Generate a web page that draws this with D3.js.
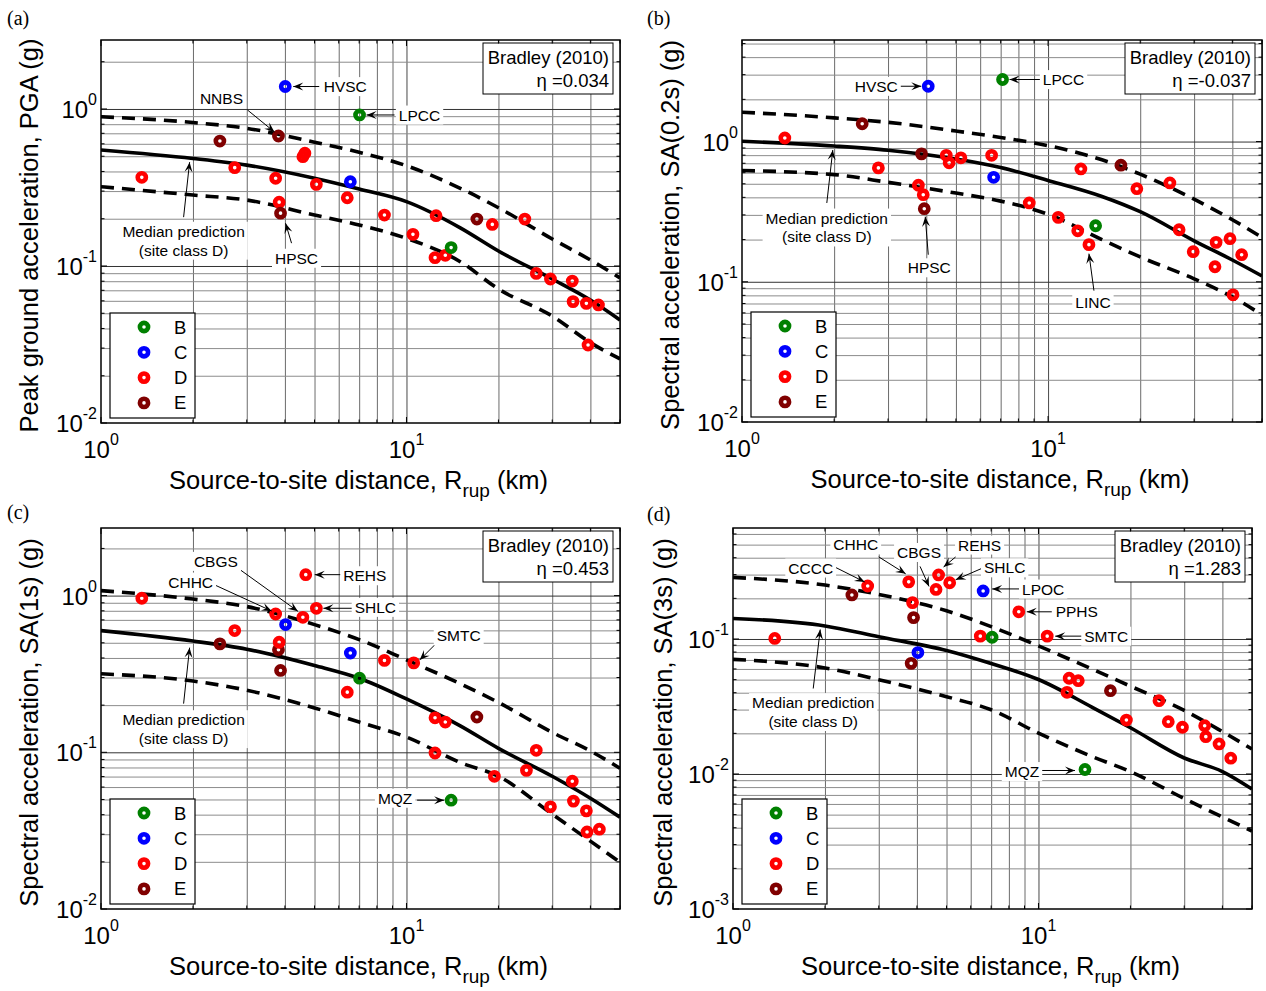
<!DOCTYPE html>
<html><head><meta charset="utf-8">
<script src="https://cdn.jsdelivr.net/npm/d3@7"></script>
<style>
body{margin:0;background:#fff;}
svg{display:block;}
</style></head><body>
<svg id="chart" width="1266" height="991"></svg>
<script>
// ================= DATA =================
const siteClasses = ["B", "C", "D", "E"];
const curveDist = [1, 2, 3, 5, 7, 10, 15, 20, 30, 40, 50];
const xTickValues = [1, 10];
const xTickExponents = ["0", "1"];

// (a) PGA
const pgaDist  = [1.36, 2.45, 2.74, 3.73, 3.81, 3.83, 3.87, 4.01, 4.58, 4.65, 5.07, 6.40, 6.55, 7.02, 8.47, 10.5, 12.4, 12.5, 13.4, 14.0, 17.0, 19.1, 24.4, 26.6, 29.6, 34.9, 35.1, 38.8, 39.3, 42.5];
const pgaValue = [0.367, 0.625, 0.423, 0.362, 0.673, 0.255, 0.217, 1.39, 0.497, 0.523, 0.331, 0.272, 0.344, 0.916, 0.211, 0.159, 0.113, 0.209, 0.117, 0.131, 0.199, 0.184, 0.199, 0.0897, 0.0826, 0.0802, 0.0593, 0.0578, 0.0314, 0.0565];
const pgaClass = ["D","E","D","D","E","D","E","C","D","D","D","D","C","B","D","D","D","D","D","B","E","D","D","D","D","D","D","D","D","D"];
const pgaStation = ["","","","","NNBS","","HPSC","HVSC","","","","","","LPCC","","","","","","","","","","","","","","","",""];
const pgaMedian = [0.548, 0.484, 0.439, 0.362, 0.309, 0.257, 0.175, 0.1246, 0.0826, 0.0607, 0.0453];
const pgaUpper  = [0.893, 0.820, 0.753, 0.614, 0.530, 0.435, 0.3126, 0.235, 0.1486, 0.1092, 0.0839];
const pgaLower  = [0.320, 0.283, 0.263, 0.211, 0.1824, 0.150, 0.1065, 0.0714, 0.048, 0.0325, 0.0256];
const pgaYTickValues = [0.01, 0.1, 1];
const pgaYTickExponents = ["-2", "-1", "0"];
const pgaEta = "0.034";

// (b) SA(0.2s)
const sa02Dist  = [1.38, 2.47, 2.79, 3.77, 3.86, 3.91, 3.94, 4.06, 4.65, 4.75, 5.19, 6.54, 6.64, 7.10, 8.68, 10.8, 12.5, 12.8, 13.6, 14.3, 17.3, 19.5, 25.0, 26.8, 29.8, 35.1, 35.4, 39.3, 40.2, 42.9];
const sa02Value = [1.06, 1.34, 0.649, 0.488, 0.817, 0.418, 0.332, 2.48, 0.798, 0.705, 0.766, 0.798, 0.556, 2.77, 0.365, 0.288, 0.231, 0.638, 0.184, 0.251, 0.678, 0.461, 0.507, 0.235, 0.164, 0.128, 0.191, 0.203, 0.0807, 0.156];
const sa02Class = ["D","E","D","D","E","D","E","C","D","D","D","D","C","B","D","D","D","D","D","B","E","D","D","D","D","D","D","D","D","D"];
const sa02Station = ["","","","","","","HPSC","HVSC","","","","","","LPCC","","","","","LINC","","","","","","","","","","",""];
const sa02Median = [1.005, 0.929, 0.867, 0.75, 0.652, 0.528, 0.406, 0.316, 0.196, 0.143, 0.110];
const sa02Upper  = [1.62, 1.476, 1.371, 1.189, 1.069, 0.935, 0.741, 0.585, 0.388, 0.277, 0.207];
const sa02Lower  = [0.621, 0.581, 0.512, 0.429, 0.376, 0.303, 0.200, 0.1503, 0.105, 0.078, 0.0581];
const sa02YTickValues = [0.01, 0.1, 1];
const sa02YTickExponents = ["-2", "-1", "0"];
const sa02Eta = "-0.037";

// (c) SA(1s)
const sa1Dist  = [1.36, 2.45, 2.74, 3.73, 3.81, 3.83, 3.87, 4.02, 4.58, 4.68, 5.07, 6.40, 6.55, 7.02, 8.47, 10.56, 12.4, 12.4, 13.4, 14.0, 17.0, 19.4, 24.7, 26.6, 29.6, 34.9, 35.2, 38.8, 39.0, 42.8];
const sa1Value = [0.962, 0.492, 0.598, 0.763, 0.451, 0.504, 0.333, 0.653, 0.727, 1.36, 0.830, 0.242, 0.430, 0.297, 0.386, 0.372, 0.099, 0.166, 0.156, 0.0495, 0.168, 0.0703, 0.0767, 0.103, 0.0449, 0.0654, 0.0488, 0.0423, 0.031, 0.0323];
const sa1Class = ["D","E","D","D","E","D","E","C","D","D","D","D","C","B","D","D","D","D","D","B","E","D","D","D","D","D","D","D","D","D"];
const sa1Station = ["","","","CHHC","","","","","CBGS","REHS","SHLC","","","","","SMTC","","","","MQZ","","","","","","","","","",""];
const sa1Median = [0.598, 0.513, 0.455, 0.358, 0.297, 0.219, 0.1475, 0.106, 0.0703, 0.0509, 0.0385];
const sa1Upper  = [1.076, 0.950, 0.851, 0.653, 0.524, 0.389, 0.274, 0.208, 0.134, 0.102, 0.0791];
const sa1Lower  = [0.317, 0.285, 0.249, 0.192, 0.156, 0.125, 0.086, 0.0703, 0.0403, 0.0271, 0.0199];
const sa1YTickValues = [0.01, 0.1, 1];
const sa1YTickExponents = ["-2", "-1", "0"];
const sa1Eta = "0.453";

// (d) SA(3s)
const sa3Dist  = [1.37, 2.45, 2.76, 3.76, 3.83, 3.87, 3.90, 4.03, 4.62, 4.71, 5.12, 6.45, 6.59, 7.05, 8.62, 10.68, 12.4, 12.6, 13.5, 14.2, 17.2, 19.4, 24.8, 26.6, 29.6, 35.0, 35.3, 39.0, 42.6];
const sa3Value = [0.101, 0.212, 0.247, 0.265, 0.066, 0.186, 0.144, 0.0793, 0.233, 0.298, 0.261, 0.105, 0.227, 0.103, 0.159, 0.105, 0.0403, 0.0512, 0.0491, 0.0108, 0.0414, 0.0251, 0.0349, 0.0244, 0.0222, 0.0228, 0.0189, 0.0167, 0.0131];
const sa3Class = ["D","E","D","D","E","D","E","C","D","D","D","D","C","B","D","D","D","D","D","B","E","D","D","D","D","D","D","D","D"];
const sa3Station = ["","","CCCC","CHHC","","","","","CBGS","REHS","SHLC","","LPOC","","PPHS","SMTC","","","","MQZ","","","","","","","","",""];
const sa3Median = [0.142, 0.125, 0.104, 0.0822, 0.0658, 0.0501, 0.0312, 0.0220, 0.01314, 0.01043, 0.00774];
const sa3Upper  = [0.286, 0.251, 0.214, 0.1618, 0.1236, 0.0888, 0.0598, 0.0447, 0.0296, 0.0206, 0.0153];
const sa3Lower  = [0.0707, 0.0610, 0.0499, 0.0374, 0.0299, 0.0201, 0.01345, 0.01042, 0.00658, 0.0048, 0.00378];
const sa3YTickValues = [0.001, 0.01, 0.1];
const sa3YTickExponents = ["-3", "-2", "-1"];
const sa3Eta = "1.283";

// ================= STYLE / LAYOUT =================
const classColors = {B: "#008000", C: "#0000ff", D: "#ff0000", E: "#800000"};
const SANS = "Arial, 'Liberation Sans', Helvetica, sans-serif";
const SERIF = "'Times New Roman', 'Liberation Serif', serif";

const panels = [
  {key: "(a)", labelPos: [7, 25], left: 101, right: 620, top: 40, bottom: 423, yDomain: [0.01, 2.75],
   dist: pgaDist, value: pgaValue, cls: pgaClass, station: pgaStation,
   median: pgaMedian, upper: pgaUpper, lower: pgaLower,
   yTicks: pgaYTickValues, yExps: pgaYTickExponents, eta: pgaEta,
   yTitle: "Peak ground acceleration, PGA (g)", yTitleX: 38,
   medianAnn: {R: 1.95, l: [-6, 73], s: [-6, 59], e: [0, 4]},
   ann: {HVSC: {l: [60, 0], s: [34, 0], e: [8, 0]},
         NNBS: {l: [-57, -38], s: [-31, -26], e: [-4, -4]},
         LPCC: {l: [60, 0], s: [35, 0], e: [7, 0]},
         HPSC: {l: [16, 45], s: [11, 30], e: [5, 10]}}},
  {key: "(b)", labelPos: [647, 25], left: 742, right: 1262, top: 40, bottom: 422, yDomain: [0.01, 5.3],
   dist: sa02Dist, value: sa02Value, cls: sa02Class, station: sa02Station,
   median: sa02Median, upper: sa02Upper, lower: sa02Lower,
   yTicks: sa02YTickValues, yExps: sa02YTickExponents, eta: sa02Eta,
   yTitle: "Spectral acceleration, SA(0.2s) (g)", yTitleX: 679,
   medianAnn: {R: 1.98, l: [-6, 72], s: [-6, 57], e: [0, 4]},
   ann: {HVSC: {l: [-52, 0], s: [-29, 0], e: [-7, 0]},
         LPCC: {l: [61, 0], s: [38, 0], e: [7, 0]},
         HPSC: {l: [5, 59], s: [4, 46], e: [1, 8]},
         LINC: {l: [4, 58], s: [5, 46], e: [0, 9]}}},
  {key: "(c)", labelPos: [7, 519], left: 101, right: 620, top: 528, bottom: 909, yDomain: [0.01, 2.7],
   dist: sa1Dist, value: sa1Value, cls: sa1Class, station: sa1Station,
   median: sa1Median, upper: sa1Upper, lower: sa1Lower,
   yTicks: sa1YTickValues, yExps: sa1YTickExponents, eta: sa1Eta,
   yTitle: "Spectral acceleration, SA(1s) (g)", yTitleX: 38,
   medianAnn: {R: 1.95, l: [-6, 79], s: [-6, 63], e: [0, 7]},
   ann: {REHS: {l: [59, 1], s: [37, 0], e: [9, 0]},
         CBGS: {l: [-87, -56], s: [-62, -47], e: [-5, -6]},
         CHHC: {l: [-85, -32], s: [-63, -30], e: [-4, -3]},
         SHLC: {l: [59, -1], s: [36, 0], e: [7, 0]},
         SMTC: {l: [45, -27], s: [22, -19], e: [6, -3]},
         MQZ:  {l: [-56, -2], s: [-34, 0], e: [-7, 0]}}},
  {key: "(d)", labelPos: [647, 521], left: 733, right: 1252, top: 528, bottom: 909, yDomain: [0.001, 0.664],
   dist: sa3Dist, value: sa3Value, cls: sa3Class, station: sa3Station,
   median: sa3Median, upper: sa3Upper, lower: sa3Lower,
   yTicks: sa3YTickValues, yExps: sa3YTickExponents, eta: sa3Eta,
   yTitle: "Spectral acceleration, SA(3s) (g)", yTitleX: 672,
   medianAnn: {R: 1.93, l: [-7, 77], s: [-7, 63], e: [0, 4]},
   ann: {CCCC: {l: [-57, -18], s: [-33, -19], e: [-3, -4]},
         CHHC: {l: [-53, -37], s: [-30, -25], e: [-3, -8]},
         CBGS: {l: [-17, -37], s: [-16, -23], e: [-7, -3]},
         REHS: {l: [41, -30], s: [17, -18], e: [5, -8]},
         SHLC: {l: [55, -15], s: [36, -16], e: [6, -3]},
         LPOC: {l: [60, -2], s: [36, -2], e: [9, -2]},
         PPHS: {l: [58, 0], s: [33, 0], e: [8, 0]},
         SMTC: {l: [59, 0], s: [35, 0], e: [8, 0]},
         MQZ:  {l: [-63, 2], s: [-44, 1], e: [-10, 1]}}}
];

const svg = d3.select("#chart");
svg.append("rect").attr("width", 1266).attr("height", 991).attr("fill", "#fff");

function interpLog(R, xs, ys) {
  const lr = Math.log10(R);
  for (let i = 0; i < xs.length - 1; i++) {
    if (R >= xs[i] && R <= xs[i + 1]) {
      const t = (lr - Math.log10(xs[i])) / (Math.log10(xs[i + 1]) - Math.log10(xs[i]));
      return Math.pow(10, Math.log10(ys[i]) + t * (Math.log10(ys[i + 1]) - Math.log10(ys[i])));
    }
  }
  return ys[0];
}

function arrow(g, sx, sy, ex, ey) {
  g.append("line").attr("x1", sx).attr("y1", sy).attr("x2", ex).attr("y2", ey)
    .attr("stroke", "#000").attr("stroke-width", 1);
  const dx = ex - sx, dy = ey - sy, L = Math.hypot(dx, dy) || 1;
  const ux = dx / L, uy = dy / L, nx = -uy, ny = ux;
  const hl = 10, hw = 4;
  const bx = ex - ux * hl, by = ey - uy * hl;
  const mx = ex - ux * hl * 0.6, my = ey - uy * hl * 0.6;
  g.append("path")
    .attr("d", `M${ex},${ey}L${bx + nx * hw},${by + ny * hw}L${mx},${my}L${bx - nx * hw},${by - ny * hw}Z`)
    .attr("fill", "#000");
}

function labelBox(g, cx, cy, lines, size) {
  const t = g.append("text").attr("font-family", SANS).attr("font-size", size)
    .attr("text-anchor", "middle");
  lines.forEach((ln, i) => {
    t.append("tspan").attr("x", cx).attr("y", cy + size * 0.36 + i * (size * 1.22)).text(ln);
  });
  const bb = t.node().getBBox();
  g.insert("rect", () => t.node())
    .attr("x", bb.x - 3).attr("y", bb.y - 1).attr("width", bb.width + 6).attr("height", bb.height + 2)
    .attr("fill", "#fff");
}

panels.forEach(p => {
  const x = d3.scaleLog().domain([1, 50]).range([p.left, p.right]);
  const y = d3.scaleLog().domain(p.yDomain).range([p.bottom, p.top]);
  const W = p.right - p.left, H = p.bottom - p.top;
  const g = svg.append("g");
  const clipId = "clip" + p.key.replace(/[()]/g, "");
  svg.append("clipPath").attr("id", clipId).append("rect")
    .attr("x", p.left).attr("y", p.top).attr("width", W).attr("height", H);

  // grid values
  const gx = [];
  for (let d = 2; d < 10; d++) gx.push(d);
  for (let d = 10; d <= 50; d += 10) gx.push(d);
  const gy = [];
  const e0 = Math.round(Math.log10(p.yDomain[0]));
  for (let e = e0; e <= e0 + 3; e++) {
    for (let m = 1; m < 10; m++) {
      const v = +(m * Math.pow(10, e)).toPrecision(6);
      if (v > p.yDomain[0] * 1.001 && v < p.yDomain[1]) gy.push(v);
    }
  }
  const isMajor = v => Math.abs(Math.log10(v) - Math.round(Math.log10(v))) < 1e-6;

  // vertical grid
  g.append("g").attr("transform", `translate(0,${p.bottom})`)
    .call(d3.axisBottom(x).tickValues(gx).tickSize(-H).tickFormat(""))
    .call(s => s.select(".domain").remove())
    .selectAll("line").attr("stroke", d => isMajor(d) ? "#333" : "#5a5a5a").attr("stroke-width", 0.9);
  // horizontal grid
  g.append("g").attr("transform", `translate(${p.left},0)`)
    .call(d3.axisLeft(y).tickValues(gy).tickSize(-W).tickFormat(""))
    .call(s => s.select(".domain").remove())
    .selectAll("line").attr("stroke", d => isMajor(d) ? "#333" : "#8c8c8c").attr("stroke-width", 1);

  // curves
  const cg = g.append("g").attr("clip-path", `url(#${clipId})`);
  const line = d3.line().x(d => x(d[0])).y(d => y(d[1])).curve(d3.curveMonotoneX);
  const mk = arr => curveDist.map((d, i) => [d, arr[i]]);
  cg.append("path").attr("d", line(mk(p.upper))).attr("fill", "none").attr("stroke", "#000")
    .attr("stroke-width", 3.6).attr("stroke-dasharray", "13,8");
  cg.append("path").attr("d", line(mk(p.lower))).attr("fill", "none").attr("stroke", "#000")
    .attr("stroke-width", 3.6).attr("stroke-dasharray", "13,8");
  cg.append("path").attr("d", line(mk(p.median))).attr("fill", "none").attr("stroke", "#000")
    .attr("stroke-width", 3.6);

  // points
  const pts = p.dist.map((d, i) => ({R: d, v: p.value[i], c: p.cls[i], n: p.station[i]}));
  cg.selectAll("circle.pt").data(pts).enter().append("circle").attr("class", "pt")
    .attr("cx", d => x(d.R)).attr("cy", d => y(d.v)).attr("r", 4.1)
    .attr("fill", "none").attr("stroke", d => classColors[d.c]).attr("stroke-width", 4.6);

  // annotations
  const ag = g.append("g");
  pts.filter(d => d.n && p.ann[d.n]).forEach(d => {
    const a = p.ann[d.n];
    const tx = x(d.R), ty = y(d.v);
    arrow(ag, tx + a.s[0], ty + a.s[1], tx + a.e[0], ty + a.e[1]);
    labelBox(ag, tx + a.l[0], ty + a.l[1], [d.n], 15.5);
  });
  {
    const m = p.medianAnn;
    const tx = x(m.R), ty = y(interpLog(m.R, curveDist, p.median));
    arrow(ag, tx + m.s[0], ty + m.s[1], tx + m.e[0], ty + m.e[1]);
    labelBox(ag, tx + m.l[0], ty + m.l[1], ["Median prediction", "(site class D)"], 15.5);
  }

  // legend
  const lg = g.append("g").attr("transform", `translate(${p.left + 9},${p.bottom - 110})`);
  lg.append("rect").attr("width", 85).attr("height", 105).attr("fill", "#fff")
    .attr("stroke", "#000").attr("stroke-width", 1.2);
  siteClasses.forEach((c, i) => {
    const yy = 14 + i * 25.3;
    lg.append("circle").attr("cx", 34).attr("cy", yy).attr("r", 4.1).attr("fill", "none")
      .attr("stroke", classColors[c]).attr("stroke-width", 4.6);
    lg.append("text").attr("x", 64).attr("y", yy + 6.5).attr("font-family", SANS)
      .attr("font-size", 18.5).text(c);
  });

  // Bradley box
  const bg = g.append("g").attr("transform", `translate(${p.right - 137},${p.top + 3})`);
  bg.append("rect").attr("width", 130).attr("height", 51).attr("fill", "#fff")
    .attr("stroke", "#000").attr("stroke-width", 1);
  bg.append("text").attr("x", 126).attr("y", 21).attr("text-anchor", "end")
    .attr("font-family", SANS).attr("font-size", 18.5).text("Bradley (2010)");
  bg.append("text").attr("x", 126).attr("y", 44).attr("text-anchor", "end")
    .attr("font-family", SANS).attr("font-size", 18.5).text("\u03B7 =" + p.eta);

  // axis box
  g.append("rect").attr("x", p.left).attr("y", p.top).attr("width", W).attr("height", H)
    .attr("fill", "none").attr("stroke", "#000").attr("stroke-width", 1.5);
  // inner ticks
  const tg = g.append("g").attr("stroke", "#000").attr("stroke-width", 1);
  [1].concat(gx).forEach(v => {
    const L = isMajor(v) ? 6 : 3.5;
    tg.append("line").attr("x1", x(v)).attr("x2", x(v)).attr("y1", p.bottom).attr("y2", p.bottom - L);
    tg.append("line").attr("x1", x(v)).attr("x2", x(v)).attr("y1", p.top).attr("y2", p.top + L);
  });
  [p.yDomain[0]].concat(gy).forEach(v => {
    const L = isMajor(v) ? 6 : 3.5;
    tg.append("line").attr("y1", y(v)).attr("y2", y(v)).attr("x1", p.left).attr("x2", p.left + L);
    tg.append("line").attr("y1", y(v)).attr("y2", y(v)).attr("x1", p.right).attr("x2", p.right - L);
  });

  // tick labels
  xTickValues.forEach((v, i) => {
    const t = g.append("text").attr("x", x(v)).attr("y", p.bottom + 35).attr("text-anchor", "middle")
      .attr("font-family", SANS).attr("font-size", 24);
    t.append("tspan").text("10");
    t.append("tspan").attr("font-size", 16).attr("dy", -13).text(xTickExponents[i]);
  });
  p.yTicks.forEach((v, i) => {
    const t = g.append("text").attr("x", p.left - 4).attr("y", y(v) + 9).attr("text-anchor", "end")
      .attr("font-family", SANS).attr("font-size", 24);
    t.append("tspan").text("10");
    t.append("tspan").attr("font-size", 16).attr("dy", -13).text(p.yExps[i]);
  });

  // axis titles
  const xt = g.append("text").attr("x", (p.left + p.right) / 2 - 2).attr("y", p.bottom + 66)
    .attr("text-anchor", "middle").attr("font-family", SANS).attr("font-size", 25.5);
  xt.append("tspan").text("Source-to-site distance, R");
  xt.append("tspan").attr("font-size", 19).attr("dy", 8).text("rup");
  xt.append("tspan").attr("dy", -8).text(" (km)");

  g.append("text").attr("transform", `translate(${p.yTitleX},${(p.top + p.bottom) / 2 + 4}) rotate(-90)`)
    .attr("text-anchor", "middle").attr("font-family", SANS).attr("font-size", 25.5).text(p.yTitle);

  // panel label
  g.append("text").attr("x", p.labelPos[0]).attr("y", p.labelPos[1])
    .attr("font-family", SERIF).attr("font-size", 20).text(p.key);
});
</script>
</body></html>
